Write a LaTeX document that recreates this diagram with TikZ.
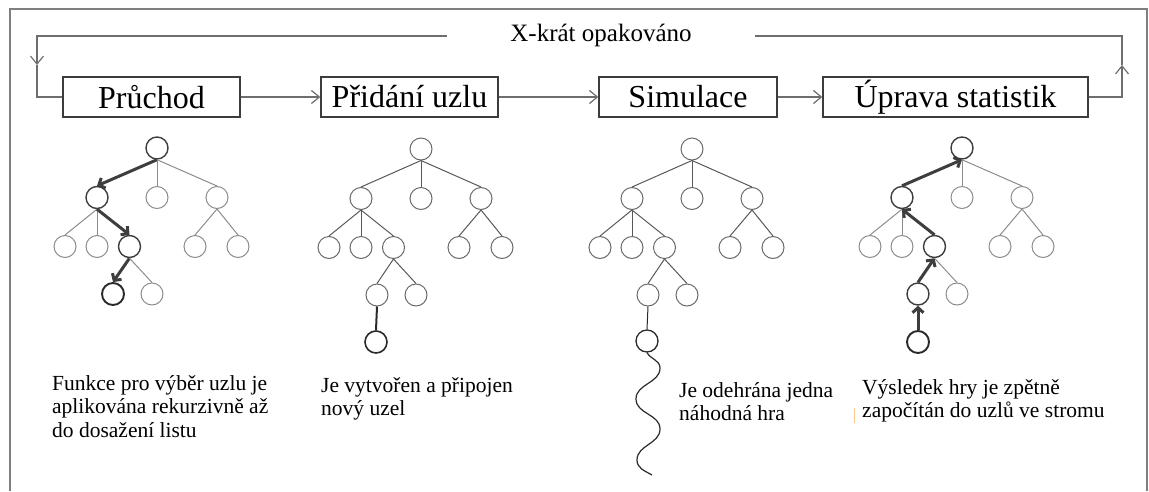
\documentclass[tikz,border=0pt]{standalone}
\usepackage{fontspec}
\setmainfont{Liberation Serif}
\usetikzlibrary{arrows.meta}

\definecolor{framegray}{HTML}{7F7F7F}
\definecolor{loopgray}{HTML}{6E6E6E}
\definecolor{boxgray}{HTML}{3C3C3C}
\definecolor{softgray}{HTML}{8C8C8C}
\definecolor{crispgray}{HTML}{6A6A6A}
\definecolor{crispedge}{HTML}{585858}
\definecolor{pathgray}{HTML}{3E3E3E}
\definecolor{darkgray}{HTML}{2A2A2A}
\definecolor{tickorange}{HTML}{F6C98A}

\tikzset{
  frame/.style={draw=framegray, line width=1.8pt},
  loopline/.style={draw=loopgray, line width=1.2pt},
  openarrow/.style={-{Straight Barb[length=8pt,width=13pt]}},
  stagebox/.style={draw=boxgray, line width=1.3pt, minimum height=40pt,
    inner sep=0pt, font=\fontsize{32}{38}\selectfont},
  % multi-line node: its base anchor sits on the last line
  desc/.style={anchor=base west, align=left, inner sep=0pt,
    font=\fontsize{21.5}{23.5}\selectfont},
  ndbase/.style={circle, minimum size=22pt, inner sep=0pt, line width=1pt},
  nd/.style={ndbase, draw=softgray},
  ed/.style={draw=softgray, line width=1pt},
  ndhl/.style={draw=pathgray, line width=1.4pt},
  ndend/.style={draw=darkgray, line width=1.9pt},
  hlfwd/.style={draw=pathgray, line width=3pt,
    -{Straight Barb[length=5pt,width=11pt]}},
  hlback/.style={draw=pathgray, line width=3pt,
    {Straight Barb[length=5pt,width=11pt]}-},
  crisp/.style={nd/.style={ndbase, draw=crispgray},
    ed/.style={draw=crispedge, line width=1pt}},
}

% nodes of one search tree; the last four arguments restyle the nodes
% along the leftmost descent (root, a, ac, aca)
\newcommand\mctstree[5]{%
  \node[nd,#2] (#1r)   at (0,0)         {};
  \node[nd,#3] (#1a)   at (-60,49.5)    {};
  \node[nd]    (#1b)   at (0,49.5)      {};
  \node[nd]    (#1c)   at (60,49.5)     {};
  \node[nd]    (#1aa)  at (-92,98.5)    {};
  \node[nd]    (#1ab)  at (-60,98.5)    {};
  \node[nd,#4] (#1ac)  at (-27.5,98.5)  {};
  \node[nd]    (#1ca)  at (38,98.5)     {};
  \node[nd]    (#1cb)  at (81,98.5)     {};
  \node[nd,#5] (#1aca) at (-44,146)     {};
  \node[nd]    (#1acb) at (-5,146)      {};
}
% edges of one search tree; arguments restyle the three edges of the descent
\newcommand\mctsedges[4]{%
  \draw[ed,#2] (#1r.south)  -- (#1a.north);
  \draw[ed]    (#1r.south)  -- (#1b.north);
  \draw[ed]    (#1r.south)  -- (#1c.north);
  \draw[ed]    (#1a.south)  -- (#1aa.north);
  \draw[ed]    (#1a.south)  -- (#1ab.north);
  \draw[ed,#3] (#1a.south)  -- (#1ac.north);
  \draw[ed]    (#1c.south)  -- (#1ca.north);
  \draw[ed]    (#1c.south)  -- (#1cb.north);
  \draw[ed,#4] (#1ac.south) -- (#1aca.north);
  \draw[ed]    (#1ac.south) -- (#1acb.north);
}

\begin{document}
\begin{tikzpicture}[x=1pt, y=-1pt]
\useasboundingbox (0,0) rectangle (1149,491);

% outer frame
\draw[frame] (10,491) -- (10,9) -- (1147,9) -- (1147,491);

% the four stages
\node[stagebox, minimum width=177pt] (p1) at (151.5,97) {Průchod};
\node[stagebox, minimum width=177pt] (p2) at (409.5,97) {Přidání uzlu};
\node[stagebox, minimum width=178pt] (p3) at (688,97)   {Simulace};
\node[stagebox, minimum width=265pt] (p4) at (955.5,97) {Úprava statistik};

\draw[loopline, openarrow] (p1) -- (p2);
\draw[loopline, openarrow] (p2) -- (p3);
\draw[loopline, openarrow] (p3) -- (p4);

% repetition loop
\node[font=\fontsize{25}{30}\selectfont, inner sep=0pt] (lbl) at (601,35) {X-krát opakováno};
\coordinate (gapL) at (447,36);
\coordinate (gapR) at (755,36);
\coordinate (tl) at (37,36);
\coordinate (tr) at (1122,36);
\coordinate (lmid) at (37,65);
\coordinate (rmid) at (1122,65);
\draw[loopline, openarrow] (gapL) -- (tl) -- (lmid);
\draw[loopline] (lmid) |- (p1.west);
\draw[loopline, openarrow] (p4.east) -| (rmid);
\draw[loopline] (rmid) -- (tr) -- (gapR);

% tree 1: selection descends from the root
\begin{scope}[shift={(157,148)}]
  \mctstree{ta}{ndhl}{ndhl}{ndhl}{ndend}
  \mctsedges{ta}{hlfwd}{hlfwd}{hlfwd}
\end{scope}

% tree 2: a new node is attached
\begin{scope}[shift={(421,149)}, crisp]
  \mctstree{tb}{}{}{}{}
  \mctsedges{tb}{}{}{}
  \node[nd, draw=darkgray, line width=1.6pt] (tbn) at (-45,193) {};
  \draw[draw=darkgray, line width=2pt] (tbaca.south) -- (tbn.north);
\end{scope}

% tree 3: a random playout from the new node
\begin{scope}[shift={(692,149)}, crisp]
  \mctstree{tc}{}{}{}{}
  \mctsedges{tc}{}{}{}
  \node[nd, draw=darkgray, line width=1.3pt] (tcn) at (-45,192) {};
  \draw[draw=darkgray, line width=1pt] (tcaca.south) -- (tcn.north);
  \coordinate (w1) at (-32,219);
  \coordinate (w2) at (-56,250);
  \coordinate (w3) at (-32,280);
  \coordinate (w4) at (-55,311);
  \coordinate (w5) at (-40,326);
  \draw[draw=darkgray, line width=1.2pt]
    (tcn.south) to[out=-60,in=90] (w1) to[out=-90,in=90] (w2)
    to[out=-90,in=90] (w3) to[out=-90,in=90] (w4) to[out=-90,in=150] (w5);
\end{scope}

% tree 4: the result is propagated back to the root
\begin{scope}[shift={(962,148)}]
  \mctstree{td}{ndhl}{ndhl}{ndhl}{ndhl}
  \mctsedges{td}{hlback}{hlback}{hlback}
  \node[nd, ndend] (tdn) at (-44,194) {};
  \draw[hlback] (tdaca.south) -- (tdn.north);
\end{scope}

% descriptions (positions give the baseline of the last line)
\node[desc] (d1) at (52,437)    {Funkce pro výběr uzlu je\\aplikována rekurzivně až\\do dosažení listu};
\node[desc] (d2) at (321,415.5) {Je vytvořen a připojen\\nový uzel};
\node[desc] (d3) at (679,420.5) {Je odehrána jedna\\náhodná hra};
\node[desc] (d4) at (862,417.5) {Výsledek hry je zpětně\\započítán do uzlů ve stromu};
\draw[draw=tickorange, line width=1pt] (854,408) -- (854,423);
\end{tikzpicture}
\end{document}
